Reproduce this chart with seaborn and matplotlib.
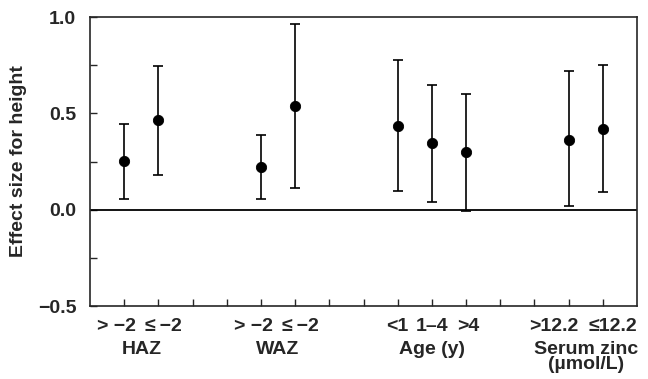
import numpy as np
import pandas as pd
import seaborn as sns
import matplotlib.pyplot as plt
from matplotlib.ticker import MultipleLocator
import matplotlib.transforms as mtransforms

# data
positions = [1, 2, 5, 6, 9, 10, 11, 14, 15]
labels = ['> \u22122', '\u2264\u2009\u22122', '> \u22122', '\u2264\u2009\u22122',
          '<1', '1\u20134', '>4', '>12.2', '\u226412.2']
effect = [0.254, 0.464, 0.223, 0.536, 0.436, 0.346, 0.298, 0.363, 0.421]
ci_low = [0.057, 0.182, 0.057, 0.114, 0.097, 0.040, -0.009, 0.017, 0.092]
ci_high = [0.447, 0.748, 0.386, 0.964, 0.777, 0.645, 0.601, 0.718, 0.749]
groups = ['HAZ', 'WAZ', 'Age (y)', 'Serum zinc\n(\u00b5mol/L)']
group_pos = [1.5, 5.5, 10, 14.5]

# horizontal nudge (inches) so neighbouring labels don't touch
label_shift = [-0.08, 0.05, -0.08, 0.05, 0, 0, 0.02, -0.15, 0.10]

df = pd.DataFrame({'pos': positions, 'effect': effect, 'low': ci_low, 'high': ci_high})

sns.set_style('ticks')
plt.rcParams['font.family'] = ['Liberation Sans', 'DejaVu Sans']
plt.rcParams['font.weight'] = 'bold'

fig = plt.figure(figsize=(6.48, 3.79), dpi=100)
ax = fig.add_axes([0.139, 0.1926, 0.844, 0.7624])

ax.errorbar(df['pos'], df['effect'],
            yerr=[df['effect'] - df['low'], df['high'] - df['effect']],
            fmt='none', ecolor='black', elinewidth=1.2, capsize=3.5, capthick=1.2)
sns.scatterplot(data=df, x='pos', y='effect', color='black', s=55,
                edgecolor='black', zorder=3, ax=ax)

ax.axhline(0, color='black', lw=1.3)

ax.set_xlim(0, 16)
ax.set_ylim(-0.5, 1.0)
ax.set_xticks(range(1, 16))
ax.set_xticklabels([])
ax.yaxis.set_major_locator(MultipleLocator(0.5))
ax.yaxis.set_minor_locator(MultipleLocator(0.25))
ax.yaxis.set_major_formatter(plt.FuncFormatter(lambda v, _: f'{v:.1f}'.replace('-', '\u2212')))

ax.tick_params(axis='both', which='both', direction='in', length=5, width=1, labelsize=14)
ax.tick_params(axis='y', pad=10)

trans = mtransforms.blended_transform_factory(ax.transData, ax.transAxes)
for p, lab, dx in zip(positions, labels, label_shift):
    offset = mtransforms.ScaledTranslation(dx, 0, fig.dpi_scale_trans)
    ax.text(p, -0.04, lab, transform=trans + offset, ha='center', va='top',
            fontsize=14, fontweight='bold')

for sp in ax.spines.values():
    sp.set_linewidth(1.2)
    sp.set_visible(True)

for g, gp in zip(groups, group_pos):
    ax.text(gp, -0.12, g, transform=trans, ha='center', va='top',
            fontsize=14, fontweight='bold', linespacing=0.9)

ax.set_xlabel('')
ax.set_ylabel('Effect size for height', fontsize=14, fontweight='bold', labelpad=8)

fig.savefig('out.png', dpi=100)
